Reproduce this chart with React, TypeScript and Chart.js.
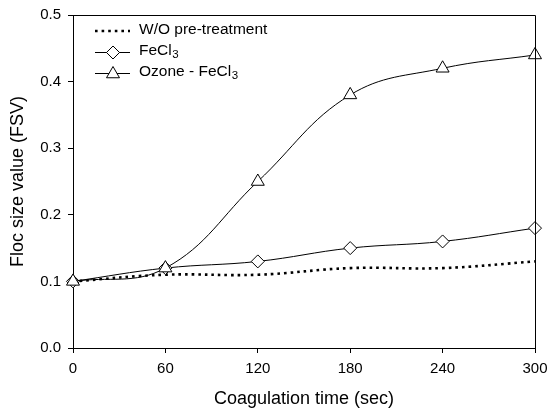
import React, { useEffect, useRef } from 'react';
import { Chart, registerables } from 'chart.js';

Chart.register(...registerables);

const times = [0, 60, 120, 180, 240, 300];
const woPretreatment = [0.1, 0.11, 0.11, 0.12, 0.12, 0.13];
const fecl3 = [0.1, 0.12, 0.13, 0.15, 0.16, 0.18];
const ozoneFecl3 = [0.1, 0.12, 0.25, 0.38, 0.42, 0.44];
const xTickValues = [0, 60, 120, 180, 240, 300];
const yTickValues = [0, 0.1, 0.2, 0.3, 0.4, 0.5];
const xTitle = 'Coagulation time (sec)';
const yTitle = 'Floc size value (FSV)';
const legendMain = ['W/O pre-treatment', 'FeCl', 'Ozone - FeCl'];
const legendSub = ['', '3', '3'];

const FONT = "'Liberation Sans', Arial, Helvetica, sans-serif";

function drawDiamond(ctx: CanvasRenderingContext2D, x: number, y: number, r: number) {
  ctx.beginPath();
  ctx.moveTo(x, y - r);
  ctx.lineTo(x + r, y);
  ctx.lineTo(x, y + r);
  ctx.lineTo(x - r, y);
  ctx.closePath();
  ctx.fillStyle = '#fff';
  ctx.fill();
  ctx.stroke();
}

function drawTriangle(ctx: CanvasRenderingContext2D, x: number, y: number, r: number) {
  const h = r * Math.sin(Math.PI / 3);
  ctx.beginPath();
  ctx.moveTo(x, y - r);
  ctx.lineTo(x + h, y + r / 2);
  ctx.lineTo(x - h, y + r / 2);
  ctx.closePath();
  ctx.fillStyle = '#fff';
  ctx.fill();
  ctx.stroke();
}

const framePlugin = {
  id: 'frameAndLegend',
  afterDraw(chart: any) {
    const { ctx, chartArea } = chart;
    const { left, right, top, bottom } = chartArea;
    ctx.save();
    ctx.strokeStyle = '#000';
    ctx.lineWidth = 1;
    ctx.beginPath();
    ctx.moveTo(Math.round(left) + 0.5, Math.round(top) + 0.5);
    ctx.lineTo(Math.round(right) + 0.5, Math.round(top) + 0.5);
    ctx.lineTo(Math.round(right) + 0.5, Math.round(bottom) + 0.5);
    ctx.stroke();

    // legend
    const rowsY = [31, 52, 73];
    const x0 = 95;
    const x1 = 130;
    const xm = 113;
    const tx = 139;
    rowsY.forEach((y, i) => {
      ctx.save();
      ctx.strokeStyle = '#000';
      if (i === 0) {
        ctx.lineWidth = 2.6;
        ctx.setLineDash([2.6, 4]);
        ctx.beginPath();
        ctx.moveTo(x0, y);
        ctx.lineTo(x1, y);
        ctx.stroke();
      } else {
        ctx.lineWidth = 1;
        ctx.beginPath();
        ctx.moveTo(x0, y + 0.5);
        ctx.lineTo(x1, y + 0.5);
        ctx.stroke();
        if (i === 1) drawDiamond(ctx, xm, y + 0.5, 6.5);
        else drawTriangle(ctx, xm, y + 1, 7.5);
      }
      ctx.restore();
      ctx.fillStyle = '#000';
      ctx.textBaseline = 'middle';
      ctx.textAlign = 'left';
      ctx.font = `15.5px ${FONT}`;
      ctx.fillText(legendMain[i], tx, y - 1);
      if (legendSub[i]) {
        const w = ctx.measureText(legendMain[i]).width;
        ctx.font = `11.5px ${FONT}`;
        ctx.fillText(legendSub[i], tx + w + 0.5, y + 3);
      }
    });
    ctx.restore();
  },
};

export default function App() {
  const canvasRef = useRef<HTMLCanvasElement | null>(null);

  useEffect(() => {
    if (!canvasRef.current) return;
    const chart = new Chart(canvasRef.current, {
      type: 'line',
      data: {
        datasets: [
          {
            label: legendMain[0],
            data: times.map((t, i) => ({ x: t, y: woPretreatment[i] })),
            borderColor: '#000',
            borderWidth: 2.6,
            borderDash: [2.6, 4],
            pointRadius: 0,
            tension: 0.4,
            fill: false,
            clip: false as any,
            order: 3,
          },
          {
            label: legendMain[1] + legendSub[1],
            data: times.map((t, i) => ({ x: t, y: fecl3[i] })),
            borderColor: '#000',
            borderWidth: 1,
            pointStyle: 'rectRot',
            pointRadius: 6.5,
            pointBackgroundColor: '#fff',
            pointBorderColor: '#000',
            pointBorderWidth: 1,
            tension: 0.4,
            fill: false,
            clip: false as any,
            order: 2,
          },
          {
            label: legendMain[2] + legendSub[2],
            data: times.map((t, i) => ({ x: t, y: ozoneFecl3[i] })),
            borderColor: '#000',
            borderWidth: 1,
            pointStyle: 'triangle',
            pointRadius: 7.5,
            pointBackgroundColor: '#fff',
            pointBorderColor: '#000',
            pointBorderWidth: 1,
            tension: 0.4,
            fill: false,
            clip: false as any,
            order: 1,
          },
        ],
      },
      options: {
        animation: false,
        responsive: true,
        maintainAspectRatio: false,
        layout: { padding: { top: 15, right: 12, left: 0, bottom: 0 } },
        plugins: {
          legend: { display: false },
          tooltip: { enabled: false },
        },
        scales: {
          x: {
            type: 'linear',
            min: 0,
            max: 300,
            afterBuildTicks: (axis: any) => {
              axis.ticks = xTickValues.map((v) => ({ value: v }));
            },
            afterFit: (axis: any) => {
              axis.height = 62;
              axis.paddingLeft = 0;
              axis.paddingRight = 0;
            },
            grid: {
              drawOnChartArea: false,
              drawTicks: true,
              tickLength: 5,
              color: '#000',
              lineWidth: 1,
            },
            border: { display: true, color: '#000', width: 1 },
            ticks: {
              color: '#000',
              padding: 7,
              maxRotation: 0,
              font: { family: FONT, size: 15 },
              callback: (v: any) => String(v),
            },
            title: {
              display: true,
              text: xTitle,
              color: '#000',
              font: { family: FONT, size: 18 },
              padding: { top: 0, bottom: 0 },
            },
          },
          y: {
            type: 'linear',
            min: 0,
            max: 0.5,
            afterBuildTicks: (axis: any) => {
              axis.ticks = yTickValues.map((v) => ({ value: v }));
            },
            afterFit: (axis: any) => {
              axis.width = 73;
              axis.paddingTop = 0;
              axis.paddingBottom = 0;
            },
            grid: {
              drawOnChartArea: false,
              drawTicks: true,
              tickLength: 5,
              color: '#000',
              lineWidth: 1,
            },
            border: { display: true, color: '#000', width: 1 },
            ticks: {
              color: '#000',
              padding: 7,
              font: { family: FONT, size: 15 },
              callback: (v: any) => Number(v).toFixed(1),
            },
            title: {
              display: true,
              text: yTitle,
              color: '#000',
              font: { family: FONT, size: 18 },
              padding: { top: 7, bottom: 0 },
            },
          },
        },
      } as any,
      plugins: [framePlugin],
    });
    return () => chart.destroy();
  }, []);

  return (
    <div style={{ position: 'absolute', left: 0, top: 0, width: 547, height: 410, background: '#fff' }}>
      <canvas ref={canvasRef} />
    </div>
  );
}
